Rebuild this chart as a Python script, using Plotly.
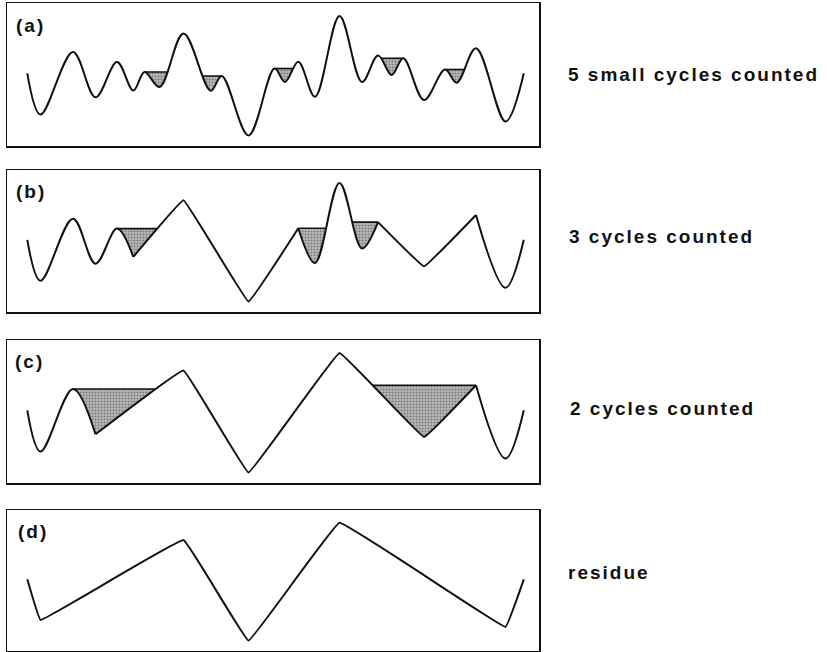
import plotly.graph_objects as go

# ---------------- data: reversal points of the load history ----------------
rev_id = list(range(1, 28))
rev_time = [20.3, 33.5, 66.0, 88.5, 110.0, 126.3, 137.5, 152.5, 176.5, 203.7,
            214.7, 241.5, 267.5, 278.0, 291.3, 308.0, 332.5, 355.0, 371.0,
            384.7, 396.3, 417.0, 438.0, 449.7, 469.0, 498.5, 516.8]
rev_level = [72.7, 31.5, 94.0, 48.7, 84.0, 55.5, 74.0, 59.0, 112.5, 55.3,
             70.0, 10.5, 77.5, 64.0, 84.3, 49.3, 130.0, 64.0, 90.5,
             71.0, 87.7, 46.0, 76.5, 63.3, 97.7, 24.5, 72.7]

panel_names = ["(a)", "(b)", "(c)", "(d)"]
panel_notes = ["5 small cycles counted", "3 cycles counted", "2 cycles counted", "residue"]

# reversals still present at each stage of the counting
panel_a_points = rev_id
panel_b_points = [1, 2, 3, 4, 5, 6, 9, 12, 15, 16, 17, 18, 19, 22, 25, 26, 27]
panel_c_points = [1, 2, 3, 4, 9, 12, 17, 22, 25, 26, 27]
panel_d_points = [1, 2, 9, 12, 17, 26, 27]

# cycles counted at each stage: (reversal setting the level, reversal closing it)
panel_a_cycles = [(7, 8), (11, 10), (13, 14), (21, 20), (23, 24)]
panel_b_cycles = [(5, 6), (15, 16), (19, 18)]
panel_c_cycles = [(3, 4), (25, 22)]
panel_d_cycles = []

# ---------------- style ----------------
W, H = 827, 652
BOX_X = (7, 539)
BOX_Y = [(3, 146), (170, 312), (340, 483), (510, 651)]
X_RANGE = [0, 532]
Y_RANGE = [0, 143]
SMOOTH, STRAIGHT = 1.0, 0.15
# drawing runs (which stretches of the history look rounded vs straight)
RUNS = [
    [(panel_a_points, SMOOTH)],
    [([1, 2, 3, 4, 5, 6], SMOOTH), ([6, 9, 12, 15], STRAIGHT),
     ([15, 16, 17, 18, 19], SMOOTH), ([19, 22, 25], STRAIGHT), ([25, 26, 27], SMOOTH)],
    [([1, 2, 3, 4], SMOOTH), ([4, 9, 12, 17, 22, 25], STRAIGHT), ([25, 26, 27], SMOOTH)],
    [(panel_d_points, STRAIGHT)],
]
LABEL_CX = [30, 30.5, 29.5, 33]          # label centres (px)
LABEL_Y = [25.5, 191.5, 361.7, 531.7]
NOTE_CX = [693, 661.5, 662, 609]
NOTE_Y = [74, 236, 408, 572]
FONT = dict(family="Liberation Sans, Arial, sans-serif", size=19, color="#111111", weight="bold")
LINE_COL = "#111111"
SHADE = dict(fillcolor="#a8a8a8",
             fillpattern=dict(shape=".", fgcolor="#333333", bgcolor="#bcbcbc", size=3, solidity=0.4))

points_by_panel = [panel_a_points, panel_b_points, panel_c_points, panel_d_points]
cycles_by_panel = [panel_a_cycles, panel_b_cycles, panel_c_cycles, panel_d_cycles]

T = dict(zip(rev_id, rev_time))
L = dict(zip(rev_id, rev_level))

fig = go.Figure()

for k in range(4):
    xa = "x" if k == 0 else f"x{k + 1}"
    ya = "y" if k == 0 else f"y{k + 1}"
    pts = points_by_panel[k]

    # shaded counted cycles: area under the cycle's level, clipped by the history
    for (r, q) in cycles_by_panel[k]:
        lvl = L[r]
        iq, ir = pts.index(q), pts.index(r)
        far = pts[iq + 1] if ir < iq else pts[iq - 1]
        x0, x1 = sorted([T[r], T[far]])
        fig.add_trace(go.Scatter(
            x=[x0, x1, x1, x0], y=[lvl, lvl, L[q], L[q]],
            xaxis=xa, yaxis=ya, mode="lines", line=dict(width=0),
            fill="toself", hoverinfo="skip", showlegend=False, **SHADE))
        fig.add_trace(go.Scatter(
            x=[x0, x1], y=[lvl, lvl], xaxis=xa, yaxis=ya,
            mode="lines", line=dict(width=1.6, color=LINE_COL),
            hoverinfo="skip", showlegend=False))

    # blank out everything below the history
    for run, sm in RUNS[k]:
        fig.add_trace(go.Scatter(
            x=[T[i] for i in run], y=[L[i] for i in run], xaxis=xa, yaxis=ya,
            mode="lines", line=dict(width=0, shape="spline", smoothing=sm),
            fill="tozeroy", fillcolor="white", hoverinfo="skip", showlegend=False))

    # the load history
    for run, sm in RUNS[k]:
        fig.add_trace(go.Scatter(
            x=[T[i] for i in run], y=[L[i] for i in run], xaxis=xa, yaxis=ya,
            mode="lines", line=dict(width=2, color=LINE_COL, shape="spline", smoothing=sm),
            hoverinfo="skip", showlegend=False))

    top, bot = BOX_Y[k]
    ax_common = dict(showgrid=False, zeroline=False, showticklabels=False, ticks="",
                     showline=True, mirror=True, linecolor="#111111", linewidth=1.5,
                     fixedrange=True, layer="above traces")
    fig.layout[f"xaxis{'' if k == 0 else k + 1}"] = dict(
        domain=[BOX_X[0] / W, BOX_X[1] / W], range=X_RANGE, anchor=ya, **ax_common)
    fig.layout[f"yaxis{'' if k == 0 else k + 1}"] = dict(
        domain=[1 - bot / H, 1 - top / H], range=Y_RANGE, anchor=xa, **ax_common)

    fig.add_annotation(text=panel_names[k], xref="paper", yref="paper",
                       x=LABEL_CX[k] / W, y=1 - LABEL_Y[k] / H, xanchor="center",
                       yanchor="middle", showarrow=False, font=FONT)
    fig.add_annotation(text=panel_notes[k], xref="paper", yref="paper",
                       x=NOTE_CX[k] / W, y=1 - NOTE_Y[k] / H, xanchor="center",
                       yanchor="middle", showarrow=False, font=FONT)

fig.update_layout(width=W, height=H, autosize=False,
                  margin=dict(l=0, r=0, t=0, b=0),
                  paper_bgcolor="white", plot_bgcolor="white", showlegend=False)

POST = ("document.body.style.margin='0';"
        "document.querySelectorAll('.annotation-text').forEach(function(t){"
        "t.style.letterSpacing='2px';});"
        "document.querySelectorAll('.js-fill').forEach(function(p){"
        "p.style.shapeRendering='crispEdges';});")
fig.write_html("out.html", config={"displayModeBar": False, "staticPlot": True},
               post_script=POST)
